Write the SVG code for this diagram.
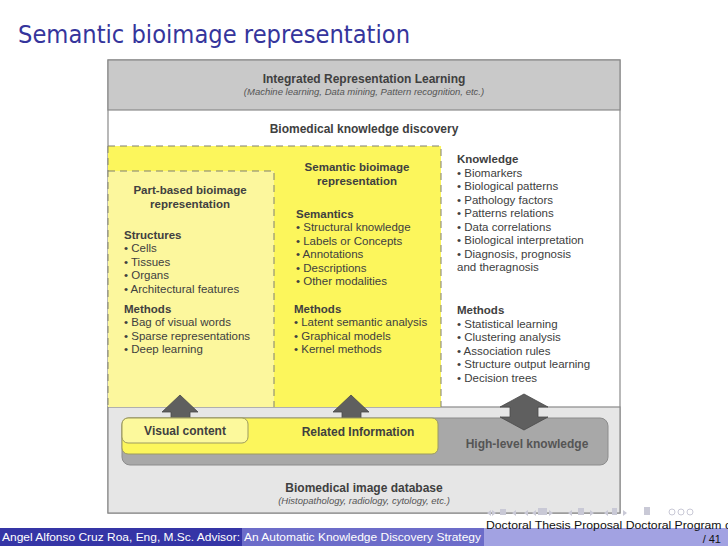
<svg xmlns="http://www.w3.org/2000/svg" width="728" height="546" viewBox="0 0 728 546">
<defs>
<style>
text{font-family:"Liberation Sans",Arial,sans-serif;fill:#404040;}
.b{font-weight:bold;font-size:11.5px;}
.i{font-style:italic;font-size:9.5px;fill:#555;}
.t{font-size:11.5px;}
.h{font-weight:bold;font-size:12px;}
.c{text-anchor:middle;}
.dash{fill:none;stroke:#808070;stroke-width:1;stroke-dasharray:7,5;}
.arrow{fill:#5f5f5f;stroke:#4a4a4a;stroke-width:0.8;}
.foot{font-size:11.5px;fill:#ffffff;}
.nav{fill:#c9c9d6;}
</style>
</defs>
<rect width="728" height="546" fill="#ffffff"/>
<text x="18" y="43" font-size="25" textLength="392" lengthAdjust="spacingAndGlyphs" style="fill:#35359c;font-family:'DejaVu Sans','Liberation Sans',sans-serif;">Semantic bioimage representation</text>

<g id="frame">
<rect x="108" y="60" width="512" height="453" fill="#ffffff" stroke="#8a8a8a" stroke-width="1.2"/>
</g>
<g id="integrated-learning">
<rect x="108" y="60" width="512" height="50" fill="#c9c9c9" stroke="#8a8a8a" stroke-width="1.2"/>
<text x="364" y="83" class="h c">Integrated Representation Learning</text>
<text x="364" y="95" class="i c">(Machine learning, Data mining, Pattern recognition, etc.)</text>
</g>
<g id="knowledge-discovery">
<text x="364" y="133" class="h c">Biomedical knowledge discovery</text>
</g>
<g id="database">
<rect x="108" y="407" width="512" height="106" fill="#e6e6e6" stroke="#8a8a8a" stroke-width="1.2"/>
<text x="364" y="492" class="h c">Biomedical image database</text>
<text x="364" y="504" class="i c">(Histopathology, radiology, cytology, etc.)</text>
</g>

<g id="semantic-representation">
<rect x="108" y="146" width="333" height="261" fill="#fcf65c"/>
<path d="M108,146 H441 V407" class="dash"/>
<text x="357" y="171" class="b c">Semantic bioimage</text>
<text x="357" y="185" class="b c">representation</text>
<text x="296" y="218" class="b">Semantics</text>
<text x="296" y="231" class="t">• Structural knowledge</text>
<text x="296" y="244.5" class="t">• Labels or Concepts</text>
<text x="296" y="258" class="t">• Annotations</text>
<text x="296" y="271.5" class="t">• Descriptions</text>
<text x="296" y="285" class="t">• Other modalities</text>
<text x="294" y="313" class="b">Methods</text>
<text x="294" y="326" class="t">• Latent semantic analysis</text>
<text x="294" y="339.5" class="t">• Graphical models</text>
<text x="294" y="353" class="t">• Kernel methods</text>
</g>

<g id="part-based">
<rect x="108" y="171" width="166" height="236" fill="#fcf79d"/>
<path d="M108,171 H274 V407" class="dash"/>
<path d="M108,146 V407" class="dash"/>
<text x="190" y="194" class="b c">Part-based bioimage</text>
<text x="190" y="208" class="b c">representation</text>
<text x="124" y="239" class="b">Structures</text>
<text x="124" y="252" class="t">• Cells</text>
<text x="124" y="265.5" class="t">• Tissues</text>
<text x="124" y="279" class="t">• Organs</text>
<text x="124" y="292.5" class="t">• Architectural features</text>
<text x="124" y="313" class="b">Methods</text>
<text x="124" y="326" class="t">• Bag of visual words</text>
<text x="124" y="339.5" class="t">• Sparse representations</text>
<text x="124" y="353" class="t">• Deep learning</text>
</g>

<g id="knowledge">
<text x="457" y="163" class="b">Knowledge</text>
<text x="457" y="176.5" class="t">• Biomarkers</text>
<text x="457" y="190" class="t">• Biological patterns</text>
<text x="457" y="203.5" class="t">• Pathology factors</text>
<text x="457" y="217" class="t">• Patterns relations</text>
<text x="457" y="230.5" class="t">• Data correlations</text>
<text x="457" y="244" class="t">• Biological interpretation</text>
<text x="457" y="257.5" class="t">• Diagnosis, prognosis</text>
<text x="457" y="271" class="t">and theragnosis</text>
<text x="457" y="314" class="b">Methods</text>
<text x="457" y="327.5" class="t">• Statistical learning</text>
<text x="457" y="341" class="t">• Clustering analysis</text>
<text x="457" y="354.5" class="t">• Association rules</text>
<text x="457" y="368" class="t">• Structure output learning</text>
<text x="457" y="381.5" class="t">• Decision trees</text>
</g>

<g id="high-level-knowledge">
<rect x="122" y="418" width="486" height="47" rx="8" fill="#a8a8a8" stroke="#8c8c8c" stroke-width="1"/>
<text x="527" y="448" class="h c" style="fill:#555555;">High-level knowledge</text>
</g>
<g id="connectors">
<path class="arrow" d="M180,395 L198,412 L190,412 L190,420 L171,420 L171,412 L162,412 Z"/>
<path class="arrow" d="M351,395 L369,412 L361,412 L361,420 L342,420 L342,412 L333,412 Z"/>
<path class="arrow" d="M524,394 L548,407 L538,407 L538,417 L548,417 L524,430 L500,417 L510,417 L510,407 L500,407 Z"/>
</g>
<g id="related-information">
<rect x="122" y="418" width="316" height="36" rx="6" fill="#fcf65c" stroke="#9c9a60" stroke-width="1"/>
<text x="358" y="436" class="h c">Related Information</text>
</g>
<g id="visual-content">
<rect x="122" y="418" width="126" height="25" rx="6" fill="#fcf99c" stroke="#9c9a60" stroke-width="1"/>
<text x="185" y="435" class="h c">Visual content</text>
</g>

<g id="nav">
<path class="nav" d="M487,513 l4,-3 v6 z M496,513 l-4,-3 v6 z"/>
<rect x="500" y="509" width="6" height="6" class="nav"/>
<path class="nav" d="M512,513 l4,-3 v6 z M524,513 l4,3 v-6 z"/>
<path class="nav" d="M532,513 l4,-3 v6 z"/>
<rect x="538" y="508" width="9" height="7" class="nav"/>
<path class="nav" d="M553,513 l-4,-3 v6 z M568,513 l4,-3 v6 z"/>
<rect x="578" y="508" width="6" height="7" class="nav"/>
<path class="nav" d="M594,513 l-4,-3 v6 z M604,513 l4,-3 v6 z"/>
<rect x="612" y="508" width="5" height="7" class="nav"/>
<path class="nav" d="M627,513 l-4,-3 v6 z"/>
<rect x="644" y="507" width="6" height="8" class="nav"/>
<circle cx="672" cy="512" r="3" fill="none" stroke="#c9c9d6"/>
<circle cx="681" cy="512" r="3" fill="none" stroke="#c9c9d6"/>
<circle cx="690" cy="512" r="3" fill="none" stroke="#c9c9d6"/>
</g>

<g id="footer">
<rect x="0" y="528" width="242" height="18" fill="#3535a6"/>
<rect x="242" y="528" width="242" height="18" fill="#6c6cc9"/>
<rect x="484" y="528" width="244" height="18" fill="#a2a2e2"/>
<text x="2" y="541" class="foot" textLength="238" lengthAdjust="spacingAndGlyphs">Angel Alfonso Cruz Roa, Eng, M.Sc. Advisor:</text>
<text x="244" y="541" class="foot" textLength="237" lengthAdjust="spacingAndGlyphs">An Automatic Knowledge Discovery Strategy</text>
<text x="486" y="529" font-size="11" style="fill:#111111;" textLength="245" lengthAdjust="spacingAndGlyphs">Doctoral Thesis Proposal Doctoral Program c</text>
<text x="721" y="543" font-size="11" text-anchor="end" style="fill:#111111;">/ 41</text>
</g>
</svg>
